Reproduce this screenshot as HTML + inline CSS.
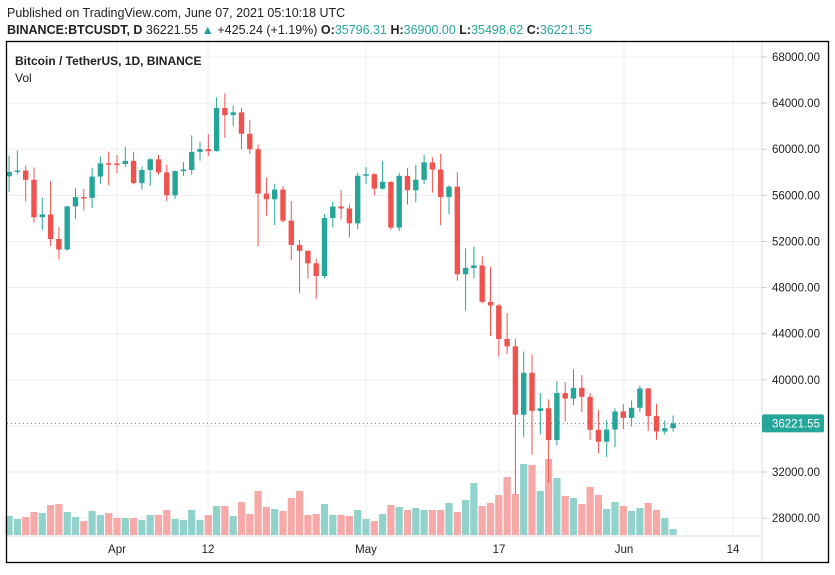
<!DOCTYPE html>
<html><head><meta charset="utf-8"><style>
body{margin:0;background:#fff;width:835px;height:570px;overflow:hidden;font-family:"Liberation Sans",sans-serif}
</style></head><body>
<svg id="s" width="835" height="570" xmlns="http://www.w3.org/2000/svg" font-family="Liberation Sans, sans-serif">
<text x="7" y="17" font-size="12.5" fill="#222">Published on TradingView.com, June 07, 2021 05:10:18 UTC</text>
<text x="7" y="34" font-size="12.5" fill="#222"><tspan font-weight="bold">BINANCE:BTCUSDT, D</tspan> 36221.55 <tspan fill="#26a69a">▲</tspan> +425.24 (+1.19%) <tspan font-weight="bold">O:</tspan><tspan fill="#26a69a">35796.31</tspan> <tspan font-weight="bold">H:</tspan><tspan fill="#26a69a">36900.00</tspan> <tspan font-weight="bold">L:</tspan><tspan fill="#26a69a">35498.62</tspan> <tspan font-weight="bold">C:</tspan><tspan fill="#26a69a">36221.55</tspan></text>
<g id="g"></g>
<rect x="6.5" y="41.5" width="822" height="521" fill="none" stroke="#000" stroke-width="1.3"/>
<text x="15" y="65" font-size="12" font-weight="bold" fill="#222">Bitcoin / TetherUS, 1D, BINANCE</text>
<text x="15" y="82" font-size="12" fill="#222">Vol</text>
</svg>
<script>
var g=document.getElementById('g'),h='';
function Y(p){return 57+(68000-p)*0.011528;}
for(var p=28000;p<=68000;p+=4000){var y=Y(p);h+='<line x1="7" x2="762" y1="'+y+'" y2="'+y+'" stroke="#efefef"/>';h+='<line x1="762" x2="767" y1="'+y+'" y2="'+y+'" stroke="#ccc"/>';h+='<text x="772" y="'+(y+4)+'" font-size="11.5" fill="#222">'+p+'.00</text>';}
var T=[[117,'Apr'],[208,'12'],[366,'May'],[499,'17'],[624,'Jun'],[733,'14']];
T.forEach(function(t){h+='<line x1="'+t[0]+'" x2="'+t[0]+'" y1="42" y2="536" stroke="#efefef"/>';h+='<text x="'+t[0]+'" y="553" font-size="11.5" fill="#222" text-anchor="middle">'+t[1]+'</text>';});
h+='<line x1="7" x2="762" y1="536" y2="536" stroke="#ddd"/><line x1="762" x2="762" y1="42" y2="562" stroke="#ddd"/>';
var D=[[57650,59450,56270,58030],[58030,59880,57820,58150],[58150,58589,55450,57350],[57350,58430,53650,54100],[54100,55830,53000,54340],[54340,57240,51600,52210],[52210,53230,50430,51300],[51300,55000,51200,55050],[55050,56600,53950,55850],[55850,56560,54700,55780],[55780,58400,54900,57630],[57630,59370,57000,58770],[58790,59800,56870,58740],[58760,59490,57930,58720],[58720,60200,58450,58990],[58990,59790,56950,57060],[57060,58500,56500,58200],[58200,59250,56800,59130],[59130,59500,57800,57990],[57990,58650,55470,56000],[56000,58150,55700,58100],[58100,58880,57680,58250],[58200,61200,57800,59770],[59770,60650,59000,60000],[60000,61300,59400,59830],[59830,64500,59800,63580],[63580,64850,61000,62960],[62960,63800,62020,63200],[63200,63600,60000,61340],[61340,62500,59580,60000],[60000,60400,51600,56150],[56150,57550,54220,55660],[55660,57000,53420,56500],[56500,56800,53620,53800],[53800,55500,50400,51700],[51700,52130,47500,51190],[51190,51200,48800,50100],[50100,50500,47000,49000],[49000,54360,48800,54030],[54030,55460,53220,55030],[55030,56430,53900,54860],[54860,55200,52330,53570],[53570,57960,53060,57700],[57700,58450,57000,57830],[57830,57920,56000,56580],[56580,58980,56500,57170],[57170,57200,53000,53200],[53200,57950,52900,57690],[57690,58360,55200,56440],[56440,58650,55400,57350],[57350,59500,56980,58860],[58860,59300,56240,58240],[58240,59600,53400,55860],[55860,56870,54370,56750],[56750,58000,48600,49150],[49150,51400,46000,49700],[49700,51560,48800,49920],[49920,50700,46650,46760],[46760,49800,43800,46450],[46450,46600,42000,43540],[43540,45800,42250,42900],[42900,43550,30000,36970],[36970,42450,35000,40600],[40600,42200,33500,37300],[37300,38850,35250,37530],[37530,38300,31100,34770],[34770,39900,34300,38850],[38850,39800,36400,38370],[38370,40900,37800,39300],[39300,40400,37200,38520],[38520,38850,34780,35660],[35660,37400,33630,34630],[34630,36500,33300,35680],[35680,37530,34150,37250],[37250,37900,35700,36690],[36690,38200,35950,37570],[37570,39480,37200,39250],[39250,39290,35560,36850],[36850,37900,34800,35520],[35520,36480,35250,35800],[35800,36900,35500,36220]];
var V=[19,16,18,23,22,30,31,23,18,14,24,20,22,17,17,17,15,20,20,25,16,15,25,15,20,29,29,19,33,21,44,28,26,24,37,44,20,21,31,20,20,19,25,16,14,21,30,28,25,27,25,25,25,32,23,35,52,29,32,40,58,41,71,70,44,76,57,39,37,31,48,40,26,33,29,24,27,32,25,17,6];
var x0=117-13*8.3;
for(var i=0;i<D.length;i++){var d=D[i],x=x0+i*8.3,up=d[3]>=d[0];
var vv=V[i]||10;h+='<rect x="'+(x-3.6)+'" y="'+(535-vv)+'" width="7.2" height="'+vv+'" fill="'+(up?'#92d2cc':'#f7a9a7')+'"/>';}
for(var i=0;i<D.length;i++){var d=D[i],x=x0+i*8.3,up=d[3]>=d[0],c=up?'#26a69a':'#ef5350';
var t=Y(Math.max(d[0],d[3])),b=Y(Math.min(d[0],d[3]));
h+='<line x1="'+x+'" x2="'+x+'" y1="'+Y(d[1])+'" y2="'+Y(d[2])+'" stroke="'+c+'" stroke-width="1"/>';
h+='<rect x="'+(x-2.7)+'" y="'+t+'" width="5.4" height="'+Math.max(1.5,b-t)+'" fill="'+c+'"/>';}
var ly=Y(36221.55);
h+='<line x1="7" x2="762" y1="'+ly+'" y2="'+ly+'" stroke="#26a69a" stroke-dasharray="1,3"/>';
h+='<rect x="762" y="'+(ly-9)+'" width="62" height="18" rx="2" fill="#26a69a"/><text x="772" y="'+(ly+4)+'" font-size="11.5" fill="#fff">36221.55</text>';
g.innerHTML=h;
</script>
</body></html>
